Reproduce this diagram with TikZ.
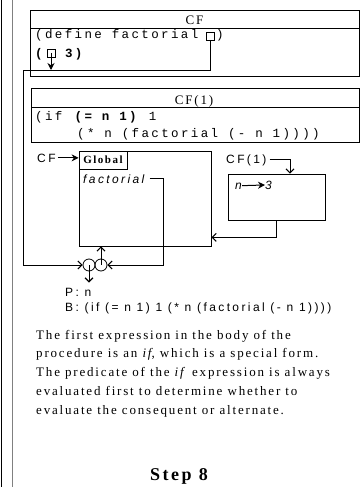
\documentclass[tikz,border=0pt]{standalone}
\usepackage{fontspec}
\setmainfont{Liberation Serif}
\newfontfamily\codefont[LetterSpace=19]{Liberation Mono}
\newfontfamily\labelfont[LetterSpace=20]{Liberation Sans}
\newfontfamily\notefont[LetterSpace=14]{Liberation Serif}
\usepackage{tikz}
\usetikzlibrary{arrows.meta, positioning, calc}

\begin{document}
\begin{tikzpicture}[x=1pt, y=-1pt,
    frame/.style={draw=black, line width=0.8pt},
    envbox/.style={rectangle, draw=black, line width=0.8pt, inner sep=0pt},
    slot/.style={rectangle, draw=black, line width=0.7pt, minimum size=8pt, inner sep=0pt},
    txt/.style={inner sep=0pt, anchor=base west},
    code/.style={txt, font=\codefont\fontsize{12.5}{14}\selectfont},
    title/.style={inner sep=0pt, anchor=base, font=\notefont\fontsize{13}{15}\selectfont},
    tag/.style={txt, font=\labelfont\fontsize{12}{14}\selectfont},
    oval/.style={circle, draw=black, line width=0.8pt, minimum size=12pt, inner sep=0pt},
    wire/.style={line width=0.8pt},
    ptr/.style={wire, -{Straight Barb[length=4pt, width=8pt, line width=1.1pt]}},
    bind/.style={line width=1pt, -{Stealth[length=7pt, width=7pt]}}]
\useasboundingbox (0,0) rectangle (360,487);
% page edges
\draw[line width=0.6pt] (1,0) -- (1,487);
\draw[gray, line width=1.6pt] (12.5,0) -- (12.5,487);
% code frame CF
\draw[frame] (30,10) rectangle (359,76);
\draw[frame] (30,28) -- (359,28);
\node (cftitle) [title] at (194.5,25) {CF};
\node (defline) [code] at (35,39) {(define factorial};
\node (slotdef) [slot] at (210,36) {};
\node (defclose) [code] at (216,39) {)};
\node (appopen) [code] at (35,57) {\bfseries (};
\node (slotapp) [slot] at (51,53) {};
\node (appargs) [code] at (55,57) {\bfseries\ 3)};
% code frame CF(1)
\draw[frame] (31,88) rectangle (359,142);
\draw[frame] (31,107) -- (359,107);
\node (onetitle) [title] at (194,104) {CF(1)};
\node (ifline) [code] at (35,120) {(if \textbf{(= n 1)} 1};
\node (mulline) [code] at (77,137) {(* n (factorial (- n 1))))};
% environments
\node (global) [envbox, minimum width=132pt, minimum height=95pt] at (145,198.5) {};
\node (globaltag) [envbox, anchor=north west, minimum width=48pt, minimum height=18pt,
    font=\notefont\bfseries\fontsize{11}{13}\selectfont] at (global.north west) {Global};
\node (factname) [tag] at (83,183) {\itshape factorial};
\node (cflabel) [tag] at (37,162) {CF};
\node (frameone) [envbox, minimum width=97pt, minimum height=46pt] at (276.5,197) {};
\node (onelabel) [tag] at (226,163) {CF(1)};
\node (nvar) [tag] at (235,189) {\itshape n};
\node (nval) [tag] at (265,189) {\itshape 3};
% procedure object
\node (penv) [oval] at (89,265) {};
\node (pcode) [oval] at (101,265) {};
\node (ptext) [tag] at (65,296) {P: n};
\node (btext) [tag] at (65,311) {B: (if (= n 1) 1 (* n (factorial (- n 1))))};
\coordinate (wireleft) at (23,70);
\coordinate (fbend) at (163,265);
% pointers
\draw[bind] ([xshift=2pt]cflabel.east) -- (cflabel.east -| global.west);
\draw[bind] (nvar) -- (nval);
\draw[ptr] ([xshift=3pt]onelabel.east) -| ([xshift=13.5pt]frameone.north);
\draw[ptr] (frameone.south) |- ([yshift=9pt]global.south east);
\draw[ptr] ([xshift=5pt]factname.east) -| (fbend) -- (pcode.east);
\draw[ptr] (slotdef.south) |- (wireleft) |- (penv.west);
\draw[bind] (slotapp.center) -- (slotapp.center |- wireleft);
\draw[ptr] (pcode.center) -- (pcode.center |- global.south);
\draw[ptr] (penv.center) -- ([yshift=5pt]penv.center |- ptext.north);
% explanation
\node (note) [txt, align=left, font=\notefont\fontsize{13}{18.8}\selectfont] at (36,414.2)
    {The first expression in the body of the\\
     procedure is an \textit{if}, which is a special form.\\
     The predicate of the \textit{if} expression is always\\
     evaluated first to determine whether to\\
     evaluate the consequent or alternate.};
\node (steptitle) [inner sep=0pt, anchor=base, font=\notefont\bfseries\fontsize{18}{20}\selectfont] at (179,480) {Step 8};
\end{tikzpicture}
\end{document}
